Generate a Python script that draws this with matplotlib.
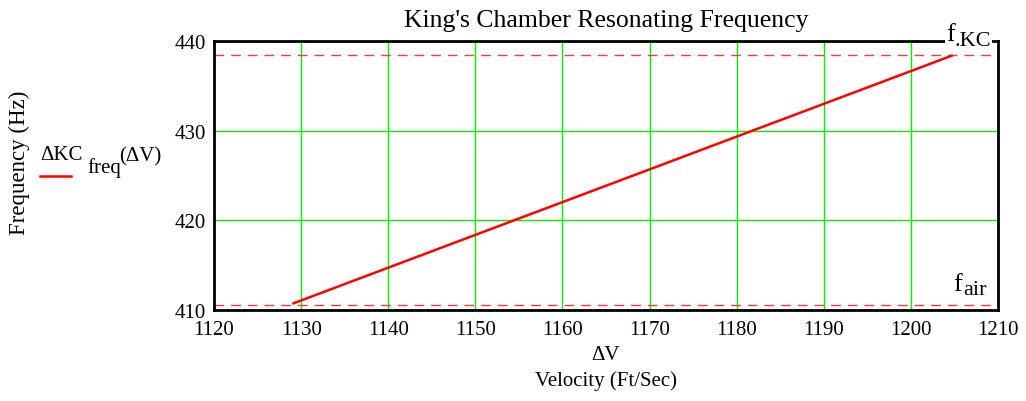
import matplotlib.pyplot as plt
import numpy as np

plt.rcParams['font.family'] = ['Liberation Serif', 'DejaVu Serif']

# data
dv = [1129.0, 1204.8]            # velocity (ft/s)
kc_freq = [410.7, 438.4]         # King's chamber frequency (Hz)
f_air = 410.6
f_kc = 438.4
xticks = [1120, 1130, 1140, 1150, 1160, 1170, 1180, 1190, 1200, 1210]
yticks = [410, 420, 430, 440]

fig = plt.figure(figsize=(10.26, 4.02), dpi=100)
ax = fig.add_axes([214/1026, 1 - 311/402, 784/1026, 269/402])

ax.set_xlim(1120, 1210)
ax.set_ylim(410, 440)
ax.set_xticks(xticks)
ax.set_yticks(yticks)
ax.grid(True, color='#00ee00', linewidth=1.0)
ax.set_axisbelow(True)

ax.axhline(f_air, color='#ff3a3a', linestyle=(0, (7, 5)), linewidth=1.0)
ax.axhline(f_kc, color='#ff3a3a', linestyle=(0, (7, 5)), linewidth=1.0)
ax.plot(dv, kc_freq, color='#ff0000', linewidth=1.8, solid_capstyle='butt')

for s in ax.spines.values():
    s.set_linewidth(2)
    s.set_color('black')
ax.tick_params(length=0, labelsize=15)
ax.tick_params(axis='x', pad=7)
ax.tick_params(axis='y', pad=6)

# f.KC label sitting on the top spine, f air near the bottom right
ax.text(946/1026, 1 - 35/402, 'f', transform=fig.transFigure, fontsize=19, ha='left', va='center',
        bbox=dict(facecolor='white', edgecolor='none', pad=1), zorder=5, clip_on=False)
ax.text(955/1026, 1 - 41/402, '.KC', transform=fig.transFigure, fontsize=16, ha='left', va='center',
        bbox=dict(facecolor='white', edgecolor='none', pad=0.5), zorder=5, clip_on=False)
ax.text(953/1026, 1 - 285/402, 'f', transform=fig.transFigure, fontsize=19, ha='left', va='center')
ax.text(963/1026, 1 - 291/402, 'air', transform=fig.transFigure, fontsize=16, ha='left', va='center')

ax.set_title("King's Chamber Resonating Frequency", fontsize=18.5, pad=11)
xc = 0.5 * (214 + 998) / 1026
fig.text(xc, 1 - 356/402, 'ΔV', ha='center', va='center', fontsize=15)
fig.text(xc, 1 - 381/402, 'Velocity (Ft/Sec)', ha='center', va='center', fontsize=15)
fig.text(19/1026, 1 - 163/402, 'Frequency (Hz)', rotation=90, ha='center', va='center', fontsize=16.5)
fig.text(40/1026, 1 - 156/402, 'ΔKC', fontsize=15, ha='left', va='center')
fig.text(87/1026, 1 - 168/402, 'freq', fontsize=15, ha='left', va='center')
fig.text(119/1026, 1 - 157/402, '(ΔV)', fontsize=15, ha='left', va='center')
fig.add_artist(plt.Line2D([40/1026, 71/1026], [1 - 177/402, 1 - 177/402], color='red', linewidth=1.8))

fig.savefig('out.png', dpi=100)
